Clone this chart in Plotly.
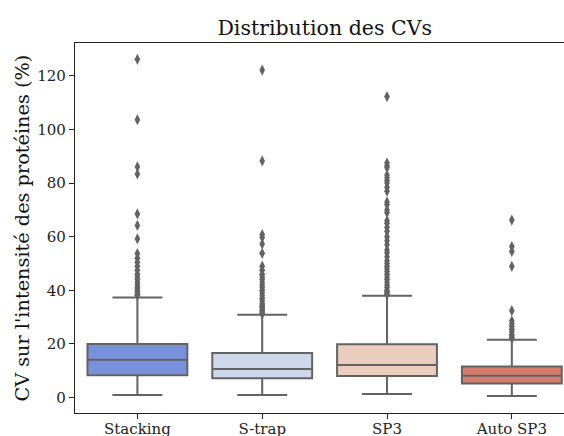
import colorsys
import plotly.graph_objects as go

categories = ["Stacking", "S-trap", "SP3", "Auto SP3"]
q1 = [8.3, 7.2, 8.0, 5.2]
median = [14.1, 10.6, 12.1, 8.1]
q3 = [20.0, 16.6, 19.9, 11.6]
lowerfence = [0.9, 0.9, 1.3, 0.5]
upperfence = [37.3, 30.9, 38.0, 21.5]

outliers_stacking = [126.2, 103.7, 86.1, 83.4, 68.5, 64.2, 59.2, 53.7, 52.0, 50.5,
                     49.0, 47.5, 46.0, 45.0, 44.0, 43.0, 42.0, 41.0, 40.3, 39.6,
                     39.0, 38.5, 38.1]
outliers_strap = [122.2, 88.3, 60.8, 59.7, 57.3, 53.8, 49.0, 47.5, 46.0, 45.0, 44.0,
                  43.0, 42.0, 41.0, 40.0, 39.0, 38.0, 37.0, 36.0, 35.0, 34.5, 34.0,
                  33.5, 33.0, 32.5, 32.0, 31.5, 31.2]
outliers_sp3 = [112.3, 87.5, 86.5, 85.8, 83.0, 82.0, 81.0, 80.0, 78.5, 77.0, 73.0,
                72.0, 70.0, 69.0, 66.0, 65.0, 63.5, 62.0, 60.0, 58.5, 57.0, 55.0,
                54.0, 52.5, 51.0, 50.0, 49.0, 48.0, 47.0, 46.0, 45.0, 44.0, 43.0,
                42.0, 41.0, 40.0, 39.5, 39.0, 38.5]
outliers_auto = [66.2, 56.3, 54.5, 48.9, 32.4, 28.6, 27.5, 26.5, 25.5, 24.5, 23.5,
                 23.0, 22.4, 22.0]
outliers = [outliers_stacking, outliers_strap, outliers_sp3, outliers_auto]

base_palette = [(0.4044, 0.5348, 0.9324), (0.7874, 0.8436, 0.9401),
                (0.9483, 0.7955, 0.7178), (0.8998, 0.4430, 0.3520)]


def desaturate(rgb, prop=0.75):
    h, l, s = colorsys.rgb_to_hls(*rgb)
    r, g, b = colorsys.hls_to_rgb(h, l, s * prop)
    return "rgb(%d,%d,%d)" % (round(r * 255), round(g * 255), round(b * 255))


colors = [desaturate(c) for c in base_palette]
line_color = "#636363"
font_family = "DejaVu Serif"

fig = go.Figure()
for i, cat in enumerate(categories):
    fig.add_trace(go.Box(
        x=[cat], q1=[q1[i]], median=[median[i]], q3=[q3[i]],
        lowerfence=[lowerfence[i]], upperfence=[upperfence[i]],
        boxpoints=False, fillcolor=colors[i],
        line=dict(color=line_color, width=2), width=0.8, whiskerwidth=0.5,
        showlegend=False,
    ))
    fig.add_trace(go.Scatter(
        x=[cat] * len(outliers[i]), y=outliers[i], mode="markers",
        marker=dict(symbol="diamond-tall", size=8, color=line_color),
        showlegend=False,
    ))

fig.update_layout(
    width=564, height=436,
    margin=dict(l=75, r=0, t=43, b=23, pad=0, autoexpand=False),
    paper_bgcolor="white", plot_bgcolor="white",
    boxmode="overlay",
    font=dict(family=font_family, color="#222222", size=15),
    title=dict(text="Distribution des CVs", x=324.7 / 564, xanchor="center",
               y=1 - 28 / 436, yanchor="middle",
               font=dict(family=font_family, size=20.5, color="#111111")),
    xaxis=dict(type="category", categoryorder="array", categoryarray=categories,
               range=[-0.5, 3.418], showline=True, linecolor="#222222", linewidth=1.3,
               mirror=True, ticks="outside", ticklen=5, tickcolor="#222222",
               ticklabelstandoff=-3,
               showgrid=False, zeroline=False,
               tickfont=dict(family=font_family, size=15, color="#222222")),
    yaxis=dict(range=[-5.8, 132.3], showline=True, linecolor="#222222", linewidth=1.3,
               mirror=False, ticks="outside", ticklen=5, tickcolor="#222222",
               tickvals=[0, 20, 40, 60, 80, 100, 120], showgrid=False, zeroline=False,
               tickfont=dict(family=font_family, size=15, color="#222222")),
    annotations=[dict(text="CV sur l'intensité des protéines (%)", textangle=-90,
                      xref="paper", yref="paper", x=(21.6 - 75) / 489, y=0.5,
                      xanchor="center", yanchor="middle", showarrow=False,
                      font=dict(family=font_family, size=19.3, color="#111111"))],
)

fig.write_html("out.html", config={"displayModeBar": False},
               post_script="document.body.style.margin='0';document.body.style.overflow='hidden';")
